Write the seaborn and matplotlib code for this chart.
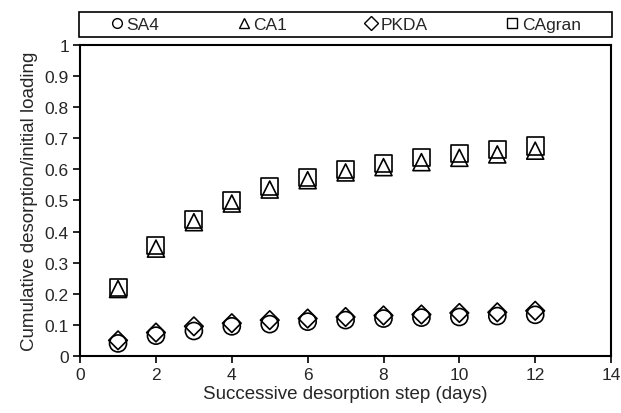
import matplotlib
matplotlib.use("Agg")
import matplotlib.pyplot as plt
from matplotlib.lines import Line2D
from matplotlib.patches import Rectangle
import seaborn as sns
import pandas as pd

days = [1, 2, 3, 4, 5, 6, 7, 8, 9, 10, 11, 12]
sa4 = [0.040, 0.065, 0.080, 0.095, 0.102, 0.110, 0.115, 0.120, 0.123, 0.125, 0.128, 0.132]
ca1 = [0.215, 0.345, 0.430, 0.490, 0.535, 0.565, 0.590, 0.607, 0.623, 0.637, 0.648, 0.660]
pkda = [0.050, 0.075, 0.095, 0.105, 0.115, 0.120, 0.125, 0.130, 0.133, 0.138, 0.140, 0.145]
cagran = [0.220, 0.355, 0.440, 0.500, 0.545, 0.575, 0.600, 0.620, 0.637, 0.652, 0.665, 0.675]

series_names = ["SA4", "CA1", "PKDA", "CAgran"]
series_values = [sa4, ca1, pkda, cagran]
series_markers = {"SA4": "o", "CA1": "^", "PKDA": "D", "CAgran": "s"}
series_sizes = {"SA4": 150, "CA1": 150, "PKDA": 90, "CAgran": 150}

x_ticks = [0, 2, 4, 6, 8, 10, 12, 14]
y_ticks = [0, 0.1, 0.2, 0.3, 0.4, 0.5, 0.6, 0.7, 0.8, 0.9, 1]
y_tick_labels = ["0", "0.1", "0.2", "0.3", "0.4", "0.5", "0.6", "0.7", "0.8", "0.9", "1"]

df = pd.DataFrame(
    [(d, v, name) for name, vals in zip(series_names, series_values) for d, v in zip(days, vals)],
    columns=["day", "value", "series"],
)

sns.set_theme(style="white")
plt.rcParams["font.family"] = ["Liberation Sans", "DejaVu Sans"]

fig = plt.figure(figsize=(6.21, 4.14), dpi=100)
ax = fig.add_axes([0.129, 0.138, 0.855, 0.751])

for name in series_names:
    sub = df[df["series"] == name]
    sns.scatterplot(data=sub, x="day", y="value", marker=series_markers[name],
                    s=series_sizes[name], ax=ax, legend=False)
    coll = ax.collections[-1]
    coll.set_facecolor("none")
    coll.set_edgecolor("black")
    coll.set_linewidth(1.2)

ax.set_xlim(0, 14)
ax.set_ylim(0, 1)
ax.set_xticks(x_ticks)
ax.set_yticks(y_ticks)
ax.set_yticklabels(y_tick_labels)
ax.tick_params(axis="both", direction="out", length=5, width=1.2, color="black",
               labelsize=12.5, pad=3, bottom=True, left=True)
for sp in ax.spines.values():
    sp.set_color("black")
    sp.set_linewidth(1.5)
ax.set_xlabel("Successive desorption step (days)", fontsize=13.5, labelpad=2)
ax.set_ylabel("Cumulative desorption/initial loading", fontsize=13.5, labelpad=5)

# framed key strip above the plot
fig.patches.append(Rectangle((79 / 621, 1 - 38 / 414), 533 / 621, 25 / 414,
                             transform=fig.transFigure, fill=False,
                             edgecolor="black", linewidth=1.2))
handles = [Line2D([], [], linestyle="none", marker=series_markers[n], markersize=7,
                  markerfacecolor="none", markeredgecolor="black", markeredgewidth=1.0)
           for n in series_names]
fig.legend(handles, series_names, loc="center", ncol=4,
           bbox_to_anchor=(345 / 621, 1 - 25.5 / 414), frameon=False,
           fontsize=12.5, handletextpad=0.1, handlelength=0.9,
           columnspacing=4.4, borderaxespad=0, borderpad=0)

fig.savefig("out.png", dpi=100)
